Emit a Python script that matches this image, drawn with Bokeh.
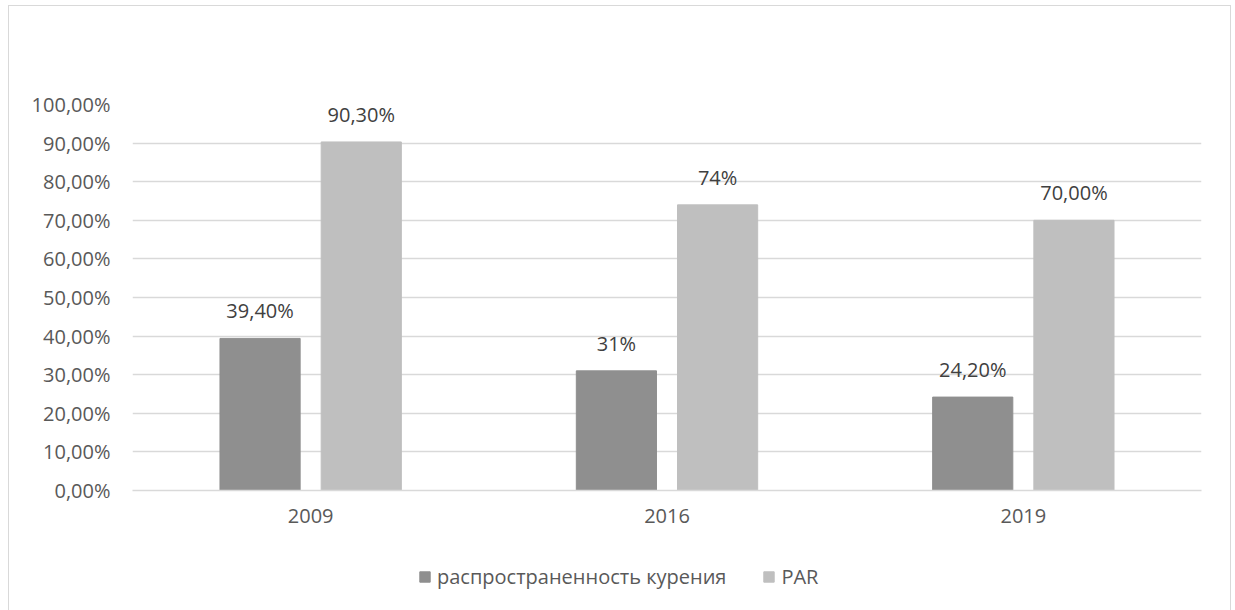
from bokeh.plotting import figure
from bokeh.layouts import column
from bokeh.models import ColumnDataSource, FactorRange, Range1d, FixedTicker, Legend, LegendItem
from bokeh.transform import dodge
from bokeh.core.properties import value
from bokeh.embed import file_html
from bokeh.resources import INLINE

years = ["2009", "2016", "2019"]
smoking = [39.4, 31.0, 24.2]
par = [90.3, 74.0, 70.0]
smoking_labels = ["39,40%", "31%", "24,20%"]
par_labels = ["90,30%", "74%", "70,00%"]
y_ticks = [0, 10, 20, 30, 40, 50, 60, 70, 80, 90, 100]
y_tick_labels = ["0,00%", "10,00%", "20,00%", "30,00%", "40,00%", "50,00%",
                 "60,00%", "70,00%", "80,00%", "90,00%", "100,00%"]
series_names = ["распространенность курения", "PAR"]

FONT = "Open Sans"
FS = "20px"
DARK = "#8f8f8f"
LIGHT = "#bfbfbf"

src = ColumnDataSource(dict(year=years, smoking=smoking, par=par,
                            sl=smoking_labels, pl=par_labels))

p = figure(width=1221, height=534,
           x_range=FactorRange(*years), y_range=Range1d(0, 100),
           output_backend="svg", toolbar_location=None,
           min_border_left=123, min_border_right=29, min_border_top=98, min_border_bottom=50)
p.outline_line_color = None

r1 = p.vbar(x=dodge("year", -0.142, range=p.x_range), top="smoking", width=0.225,
            source=src, fill_color=DARK, line_color=DARK)
r2 = p.vbar(x=dodge("year", 0.142, range=p.x_range), top="par", width=0.225,
            source=src, fill_color=LIGHT, line_color=LIGHT)

p.text(x=dodge("year", -0.142, range=p.x_range), y="smoking", text="sl", source=src,
       text_align="center", text_baseline="bottom", y_offset=-14,
       text_font=value(FONT), text_font_size=FS, text_color="#404040")
p.text(x=dodge("year", 0.142, range=p.x_range), y="par", text="pl", source=src,
       text_align="center", text_baseline="bottom", y_offset=-14,
       text_font=value(FONT), text_font_size=FS, text_color="#404040")

p.yaxis.ticker = FixedTicker(ticks=y_ticks)
p.yaxis.major_label_overrides = {t: l for t, l in zip(y_ticks, y_tick_labels)}
p.yaxis.axis_line_color = None
p.yaxis.major_tick_line_color = None
p.yaxis.minor_tick_line_color = None
p.yaxis.major_tick_out = 0
p.yaxis.major_label_standoff = 22
p.yaxis.major_label_text_font = FONT
p.yaxis.major_label_text_font_size = FS
p.yaxis.major_label_text_color = "#595959"

p.xaxis.axis_line_color = "#d9d9d9"
p.xaxis.axis_line_width = 1.3
p.xaxis.major_tick_line_color = None
p.xaxis.minor_tick_line_color = None
p.xaxis.major_tick_out = 0
p.xaxis.major_label_standoff = 18
p.xaxis.major_label_text_font = FONT
p.xaxis.major_label_text_font_size = FS
p.xaxis.major_label_text_color = "#595959"

p.xgrid.grid_line_color = None
p.ygrid.grid_line_color = "#d9d9d9"
p.ygrid.grid_line_width = 1.3

# legend strip below the chart
leg = figure(width=1221, height=70, x_range=Range1d(0, 1), y_range=Range1d(0, 1),
             output_backend="svg", toolbar_location=None,
             min_border=0, min_border_left=0, min_border_right=0,
             min_border_top=0, min_border_bottom=0)
leg.axis.visible = False
leg.grid.visible = False
leg.outline_line_color = None
proxy = ColumnDataSource(dict(x=[-10], top=[-10]))
l1 = leg.vbar(x="x", top="top", width=0.1, source=proxy, fill_color=DARK, line_color=DARK)
l2 = leg.vbar(x="x", top="top", width=0.1, source=proxy, fill_color=LIGHT, line_color=LIGHT)
legend = Legend(items=[LegendItem(label=series_names[0], renderers=[l1], index=0),
                       LegendItem(label=series_names[1], renderers=[l2], index=0)],
                orientation="horizontal", location=(286, 20),
                glyph_width=13, glyph_height=13, label_standoff=6, spacing=36,
                label_text_font=FONT, label_text_font_size=FS,
                label_text_color="#595959", border_line_color=None,
                background_fill_alpha=0, padding=0, margin=0)
leg.add_layout(legend, "center")

layout = column(p, leg, spacing=0,
                styles={"position": "absolute", "left": "8px", "top": "5px",
                        "border": "1px solid #d9d9d9"})

open("out.html", "w").write(file_html(layout, INLINE))
